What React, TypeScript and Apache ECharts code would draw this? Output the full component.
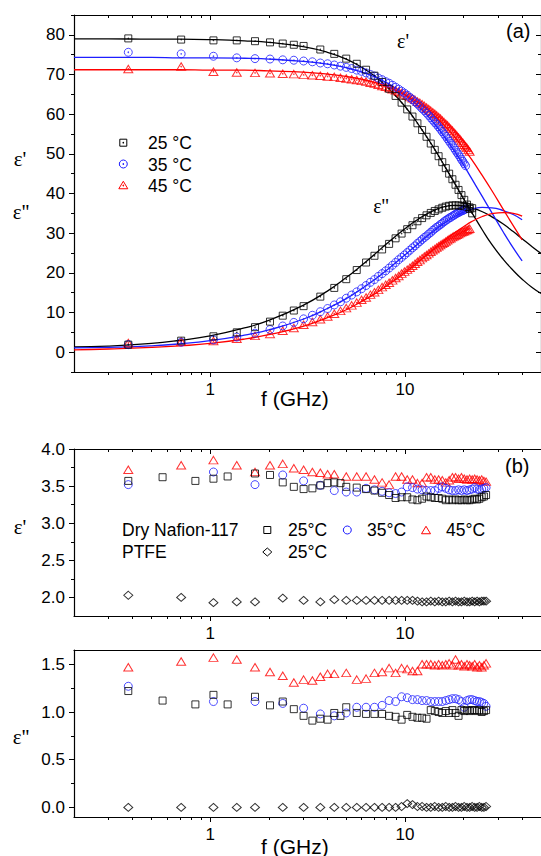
import React, { useEffect, useRef } from "react";
import * as echarts from "echarts";

// ---------- frequency axis ----------
const F_MIN = 0.2;
const F_MAX = 50;
const freqMajor = [1, 10];
const freqMinor = [0.3, 0.4, 0.5, 0.6, 0.7, 0.8, 0.9, 2, 3, 4, 5, 6, 7, 8, 9, 20, 30, 40];

// ---------- (a) water: measured points ----------
const waterFreq = [0.38, 0.71, 1.04, 1.37, 1.70, 2.03, 2.36, 2.69, 3.02, 3.35, 3.68, 4.01, 4.34, 4.67, 5.00, 5.33, 5.66, 5.99, 6.32, 6.65, 6.98, 7.31, 7.64, 7.97, 8.30, 8.63, 8.96, 9.29, 9.62, 9.95, 10.28, 10.61, 10.94, 11.27, 11.60, 11.93, 12.26, 12.59, 12.92, 13.25, 13.58, 13.91, 14.24, 14.57, 14.90, 15.23, 15.56, 15.89, 16.22, 16.55, 16.88, 17.21, 17.54, 17.87, 18.20, 18.53, 18.86, 19.19, 19.52, 19.85, 20.18, 20.51, 20.84, 21.17, 21.50, 21.83];
const waterFreq25 = [0.38, 0.71, 1.04, 1.37, 1.70, 2.03, 2.36, 2.69, 3.02, 3.68, 4.34, 5.00, 5.66, 6.32, 6.98, 7.64, 8.30, 8.96, 9.62, 10.28, 10.94, 11.60, 12.26, 12.92, 13.58, 14.24, 14.90, 15.56, 16.22, 16.88, 17.54, 18.20, 18.86, 19.52, 20.18, 20.84, 21.50, 22.16];

const epsReal25 = [79.1, 78.8, 78.6, 78.6, 78.4, 78.1, 77.8, 77.5, 77.2, 76.3, 75.2, 74.0, 72.7, 71.2, 69.7, 68.1, 66.4, 64.6, 62.9, 61.2, 59.4, 57.7, 56.0, 54.3, 52.6, 51.0, 49.4, 47.9, 46.4, 45.0, 43.6, 42.2, 40.9, 39.6, 38.4, 37.2, 36.1, 35.0];
const epsImag25 = [1.9, 2.9, 4.0, 5.0, 6.3, 7.7, 9.2, 10.5, 11.6, 14.0, 16.2, 18.4, 20.7, 22.6, 24.3, 25.9, 27.3, 28.7, 29.9, 31.0, 32.0, 33.0, 33.8, 34.5, 35.1, 35.6, 36.0, 36.4, 36.7, 36.9, 37.0, 37.0, 37.0, 36.9, 36.8, 36.6, 36.5, 36.3];

const epsReal35 = [75.6, 75.2, 74.6, 74.2, 74.0, 73.9, 73.7, 73.6, 73.4, 73.2, 72.9, 72.7, 72.4, 72.1, 71.8, 71.5, 71.1, 70.8, 70.4, 70.0, 69.6, 69.1, 68.7, 68.2, 67.8, 67.3, 66.8, 66.3, 65.8, 65.3, 64.8, 64.2, 63.7, 63.1, 62.6, 62.0, 61.4, 60.9, 60.3, 59.7, 59.1, 58.5, 57.9, 57.4, 56.8, 56.2, 55.6, 55.0, 54.4, 53.8, 53.2, 52.6, 52.1, 51.5, 50.9, 50.3, 49.8, 49.2, 48.6, 48.1, 47.5, 47.0];
const epsImag35 = [1.9, 2.5, 3.1, 3.8, 4.8, 5.7, 6.6, 7.5, 8.4, 9.3, 10.2, 11.0, 11.9, 12.7, 13.6, 14.4, 15.2, 16.0, 16.8, 17.6, 18.3, 19.1, 19.8, 20.5, 21.2, 21.9, 22.6, 23.3, 23.9, 24.5, 25.1, 25.7, 26.3, 26.8, 27.4, 27.9, 28.4, 28.9, 29.3, 29.8, 30.2, 30.7, 31.1, 31.5, 31.8, 32.2, 32.5, 32.9, 33.2, 33.5, 33.8, 34.0, 34.3, 34.5, 34.8, 35.0, 35.2, 35.4, 35.6, 35.7, 35.9, 36.1];

const epsReal45 = [71.4, 72.0, 70.7, 70.5, 70.4, 70.3, 70.2, 70.1, 69.9, 69.8, 69.7, 69.5, 69.4, 69.2, 69.0, 68.8, 68.6, 68.4, 68.2, 67.9, 67.7, 67.4, 67.1, 66.9, 66.6, 66.3, 66.0, 65.7, 65.3, 65.0, 64.7, 64.3, 64.0, 63.6, 63.2, 62.9, 62.5, 62.1, 61.7, 61.3, 60.9, 60.5, 60.1, 59.7, 59.3, 58.9, 58.4, 58.0, 57.6, 57.2, 56.7, 56.3, 55.9, 55.4, 55.0, 54.5, 54.1, 53.7, 53.2, 52.8, 52.3, 51.9, 51.5, 51.0, 50.6];
const epsImag45 = [2.3, 2.7, 2.8, 3.4, 4.1, 4.6, 5.4, 6.1, 6.9, 7.6, 8.3, 9.0, 9.7, 10.4, 11.1, 11.8, 12.5, 13.2, 13.8, 14.5, 15.1, 15.7, 16.4, 17.0, 17.5, 18.1, 18.7, 19.2, 19.8, 20.3, 20.8, 21.3, 21.8, 22.3, 22.8, 23.2, 23.7, 24.1, 24.5, 24.9, 25.3, 25.7, 26.0, 26.4, 26.7, 27.0, 27.3, 27.6, 27.9, 28.2, 28.5, 28.7, 29.0, 29.2, 29.4, 29.6, 29.8, 30.0, 30.2, 30.4, 30.5, 30.7, 30.8, 31.0, 31.1];

// ---------- (a) Debye fit curves ----------
const fitFreq = [0.2, 0.3, 0.5, 0.7, 1, 1.5, 2, 3, 4, 5, 6, 7, 8, 10, 12, 14, 16, 18, 20, 22, 25, 28, 32, 36, 40];
const fitFreq25 = [0.2, 0.3, 0.5, 0.7, 1, 1.5, 2, 3, 4, 5, 6, 7, 8, 10, 12, 14, 16, 18, 20, 22, 25, 28, 32, 36, 40, 45, 50];
const fitReal25 = [79.0, 79.0, 78.9, 78.9, 78.8, 78.5, 78.1, 77.0, 75.6, 73.9, 71.8, 69.6, 67.1, 62.0, 56.7, 51.7, 46.9, 42.6, 38.7, 35.3, 30.8, 27.1, 23.4, 20.6, 18.4, 16.3, 14.8];
const fitImag25 = [1.3, 1.5, 2.2, 3.0, 4.1, 6.1, 8.0, 11.8, 15.4, 18.8, 21.9, 24.7, 27.2, 31.1, 33.9, 35.7, 36.7, 37.0, 36.9, 36.4, 35.4, 34.1, 32.3, 30.4, 28.6, 26.6, 24.9];
const fitReal35 = [74.3, 74.3, 74.3, 74.2, 74.2, 74.1, 73.9, 73.3, 72.6, 71.7, 70.6, 69.4, 68.0, 64.9, 61.5, 57.9, 54.2, 50.6, 47.2, 43.8, 39.2, 35.1, 30.3, 26.3, 23.0];
const fitImag35 = [1.1, 1.2, 1.6, 2.1, 2.9, 4.3, 5.6, 8.3, 11.0, 13.5, 16.0, 18.3, 20.5, 24.5, 27.8, 30.5, 32.6, 34.2, 35.3, 36.0, 36.5, 36.4, 35.7, 34.7, 33.4];
const fitReal45 = [71.2, 71.2, 71.2, 71.2, 71.1, 71.1, 70.9, 70.6, 70.1, 69.5, 68.8, 68.0, 67.1, 64.9, 62.5, 59.9, 57.1, 54.3, 51.4, 48.6, 44.5, 40.7, 36.0, 31.9, 28.3];
const fitImag45 = [0.6, 0.8, 1.2, 1.6, 2.2, 3.3, 4.4, 6.5, 8.7, 10.7, 12.8, 14.7, 16.6, 20.0, 23.1, 25.9, 28.2, 30.1, 31.6, 32.9, 34.2, 34.9, 35.2, 35.0, 34.3];

// ---------- (b) dry Nafion-117 and PTFE ----------
const nafionFreq25 = [0.38, 0.57, 0.84, 1.04, 1.23, 1.70, 2.03, 2.36, 2.69, 3.02, 3.35, 3.68, 4.01, 4.34, 4.67, 5.00, 5.66, 6.32, 6.98, 7.64, 8.30, 8.96, 9.62, 10.28, 10.94, 11.60, 12.26, 12.92, 13.58, 14.24, 14.90, 15.56, 16.22, 16.88, 17.54, 18.20, 18.86, 19.52, 20.18, 20.84, 21.50, 22.16, 22.82, 23.48, 24.14, 24.80, 25.46, 26.12];
const nafionReal25 = [3.57, 3.62, 3.57, 3.60, 3.63, 3.67, 3.65, 3.55, 3.49, 3.46, 3.47, 3.51, 3.54, 3.55, 3.54, 3.49, 3.48, 3.46, 3.44, 3.41, 3.38, 3.34, 3.35, 3.35, 3.32, 3.31, 3.33, 3.36, 3.35, 3.34, 3.34, 3.33, 3.31, 3.32, 3.31, 3.32, 3.31, 3.31, 3.32, 3.31, 3.31, 3.32, 3.33, 3.32, 3.33, 3.35, 3.36, 3.38];
const nafionImag25 = [1.22, 1.12, 1.08, 1.18, 1.08, 1.16, 1.07, 1.11, 1.03, 0.96, 0.91, 0.93, 0.92, 0.99, 0.96, 1.05, 0.99, 0.98, 0.98, 0.98, 0.96, 0.95, 0.92, 0.97, 0.95, 0.94, 0.94, 0.93, 1.02, 1.01, 1.00, 0.99, 1.01, 0.99, 1.02, 0.99, 0.96, 1.02, 1.01, 1.02, 1.01, 1.02, 1.02, 1.01, 1.02, 1.00, 1.01, 1.02];

const nafionFreq35 = [0.38, 1.04, 1.70, 2.36, 3.02, 3.68, 4.34, 5.00, 5.66, 6.32, 6.98, 7.64, 8.30, 8.96, 9.62, 10.28, 10.94, 11.60, 12.26, 12.92, 13.58, 14.24, 14.90, 15.56, 16.22, 16.88, 17.54, 18.20, 18.86, 19.52, 20.18, 20.84, 21.50, 22.16, 22.82, 23.48, 24.14, 24.80, 25.46, 26.12];
const nafionReal35 = [3.52, 3.69, 3.52, 3.65, 3.57, 3.51, 3.44, 3.42, 3.42, 3.47, 3.45, 3.43, 3.41, 3.40, 3.42, 3.49, 3.48, 3.46, 3.45, 3.44, 3.44, 3.44, 3.47, 3.49, 3.47, 3.45, 3.44, 3.44, 3.45, 3.44, 3.45, 3.44, 3.45, 3.46, 3.48, 3.46, 3.45, 3.46, 3.47, 3.48];
const nafionImag35 = [1.27, 1.11, 1.11, 1.09, 1.04, 0.98, 0.96, 0.99, 1.05, 1.05, 1.05, 1.07, 1.12, 1.11, 1.16, 1.15, 1.13, 1.13, 1.12, 1.12, 1.11, 1.11, 1.11, 1.11, 1.12, 1.13, 1.14, 1.14, 1.13, 1.11, 1.05, 1.12, 1.13, 1.13, 1.12, 1.11, 1.11, 1.10, 1.09, 1.06];

const nafionFreq45 = [0.38, 0.71, 1.04, 1.37, 1.70, 2.03, 2.36, 2.69, 3.02, 3.35, 3.68, 4.01, 4.34, 5.00, 5.66, 6.32, 6.98, 7.64, 8.30, 8.96, 9.62, 10.28, 10.94, 11.60, 12.26, 12.92, 13.58, 14.24, 14.90, 15.56, 16.22, 16.88, 17.54, 18.20, 18.86, 19.52, 20.18, 20.84, 21.50, 22.16, 22.82, 23.48, 24.14, 24.80, 25.46, 26.12];
const nafionReal45 = [3.72, 3.78, 3.85, 3.78, 3.69, 3.78, 3.80, 3.74, 3.72, 3.69, 3.68, 3.66, 3.66, 3.63, 3.63, 3.63, 3.59, 3.55, 3.52, 3.63, 3.63, 3.59, 3.59, 3.54, 3.54, 3.62, 3.62, 3.59, 3.59, 3.58, 3.55, 3.58, 3.62, 3.62, 3.60, 3.62, 3.60, 3.59, 3.60, 3.59, 3.60, 3.59, 3.58, 3.59, 3.57, 3.56];
const nafionImag45 = [1.47, 1.53, 1.57, 1.55, 1.47, 1.42, 1.38, 1.31, 1.34, 1.33, 1.37, 1.40, 1.40, 1.41, 1.34, 1.35, 1.41, 1.42, 1.46, 1.41, 1.46, 1.45, 1.43, 1.43, 1.50, 1.50, 1.50, 1.49, 1.50, 1.49, 1.50, 1.51, 1.49, 1.55, 1.49, 1.50, 1.48, 1.50, 1.49, 1.48, 1.50, 1.47, 1.49, 1.47, 1.49, 1.51];

const ptfeFreq = [0.38, 0.71, 1.04, 1.37, 1.70, 2.36, 3.02, 3.68, 4.34, 5.00, 5.66, 6.32, 6.98, 7.64, 8.30, 8.96, 9.62, 10.28, 10.94, 11.60, 12.26, 12.92, 13.58, 14.24, 14.90, 15.56, 16.22, 16.88, 17.54, 18.20, 18.86, 19.52, 20.18, 20.84, 21.50, 22.16, 22.82, 23.48, 24.14, 24.80, 25.46, 26.12];
const ptfeReal = [2.03, 2.00, 1.93, 1.94, 1.94, 1.99, 1.96, 1.94, 1.97, 1.96, 1.96, 1.96, 1.96, 1.96, 1.96, 1.96, 1.96, 1.96, 1.96, 1.95, 1.94, 1.94, 1.95, 1.94, 1.95, 1.94, 1.94, 1.95, 1.94, 1.95, 1.94, 1.94, 1.95, 1.94, 1.94, 1.95, 1.94, 1.95, 1.94, 1.95, 1.95, 1.95];
const ptfeImag = [0.00, 0.00, 0.00, 0.00, 0.00, 0.00, 0.00, 0.00, 0.00, 0.00, 0.00, 0.00, 0.00, 0.00, 0.00, 0.00, 0.01, 0.04, 0.03, 0.01, 0.01, 0.00, 0.00, 0.01, 0.00, 0.00, 0.01, 0.00, 0.00, 0.01, 0.00, 0.00, 0.01, 0.00, 0.00, 0.01, 0.00, 0.00, 0.01, 0.00, 0.00, 0.01];

// ---------- y-axis ticks ----------
const yTicksA = [0, 10, 20, 30, 40, 50, 60, 70, 80];
const yMinorA = [-5, 5, 15, 25, 35, 45, 55, 65, 75, 85];
const yTicksB1 = [2.0, 2.5, 3.0, 3.5, 4.0];
const yMinorB1 = [2.25, 2.75, 3.25, 3.75];
const yTicksB2 = [0.0, 0.5, 1.0, 1.5];
const yMinorB2 = [0.25, 0.75, 1.25];

const SANS = "'Liberation Sans', Arial, Helvetica, sans-serif";
const SERIF = "'Liberation Serif', 'Times New Roman', serif";
const BLACK = "#000000";
const BLUE = "#1e1eff";
const RED = "#ff0000";

const zip = (fs: number[], vs: number[]) => vs.map((v, i) => [fs[i], v]);

const tickFont = { fontSize: 17, color: "#000", fontFamily: SANS };

function xAxis(grid: number, position: "top" | "bottom", major: boolean, labels: boolean, ticks = true) {
  return {
    type: "log",
    logBase: 10,
    gridIndex: grid,
    position,
    min: F_MIN,
    max: F_MAX,
    axisLine: { show: major, onZero: false, lineStyle: { color: "#000", width: 1.2 } },
    axisTick: {
      show: ticks,
      inside: position === "top",
      length: major ? 5 : 3,
      customValues: major ? freqMajor : freqMinor,
      lineStyle: { color: "#000", width: 1 },
    },
    axisLabel: {
      show: labels,
      customValues: freqMajor,
      formatter: (v: number) => String(Math.round(v)),
      margin: 9,
      ...tickFont,
    },
    splitLine: { show: false },
  };
}

function yAxis(
  grid: number,
  position: "left" | "right",
  major: boolean,
  min: number,
  max: number,
  values: number[],
  digits: number
) {
  return {
    type: "value",
    gridIndex: grid,
    position,
    min,
    max,
    axisLine: { show: major, onZero: false, lineStyle: { color: "#000", width: 1.2 } },
    axisTick: {
      show: true,
      inside: position === "right",
      length: major ? 5 : 3,
      customValues: values,
      lineStyle: { color: "#000", width: 1 },
    },
    axisLabel: {
      show: major && position === "left",
      customValues: values,
      formatter: (v: number) => v.toFixed(digits),
      margin: 9,
      ...tickFont,
    },
    splitLine: { show: false },
  };
}

const hollow = (color: string, symbol: string, size: number | number[], data: number[][], xi: number, yi: number) => ({
  type: "scatter",
  xAxisIndex: xi,
  yAxisIndex: yi,
  data,
  symbol,
  symbolSize: size,
  itemStyle: { color: "rgba(0,0,0,0)", borderColor: color, borderWidth: 1 },
  silent: true,
  z: 3,
});

const centreDot = (color: string, data: number[][]) => ({
  type: "scatter",
  xAxisIndex: 0,
  yAxisIndex: 0,
  data,
  symbol: "circle",
  symbolSize: 1.6,
  itemStyle: { color },
  silent: true,
  z: 4,
});

const fitLine = (color: string, data: number[][]) => ({
  type: "line",
  xAxisIndex: 0,
  yAxisIndex: 0,
  data,
  smooth: true,
  showSymbol: false,
  symbol: "none",
  lineStyle: { color, width: 1.3 },
  silent: true,
  z: 2,
});

const SQ = [7, 7];
const CI = 8;
const TR = [9, 7.5];
const DI = [9, 8];

function label(text: string, x: number, y: number, size: number, family = SANS, align = "left") {
  return {
    type: "text",
    x,
    y,
    silent: true,
    style: { text, fontSize: size, fontFamily: family, fill: "#000", align, verticalAlign: "middle" },
  };
}

const stroke = (c: string) => ({ fill: "none", stroke: c, lineWidth: 1 });

function squareMark(cx: number, cy: number, c: string) {
  return { type: "rect", silent: true, shape: { x: cx - 3.5, y: cy - 3.5, width: 7, height: 7 }, style: stroke(c) };
}
function circleMark(cx: number, cy: number, c: string) {
  return { type: "circle", silent: true, shape: { cx, cy, r: 4 }, style: stroke(c) };
}
function triangleMark(cx: number, cy: number, c: string) {
  return {
    type: "polygon",
    silent: true,
    shape: { points: [[cx - 4.5, cy + 3.75], [cx + 4.5, cy + 3.75], [cx, cy - 3.75]] },
    style: stroke(c),
  };
}
function diamondMark(cx: number, cy: number, c: string) {
  return {
    type: "polygon",
    silent: true,
    shape: { points: [[cx, cy - 4], [cx + 4.5, cy], [cx, cy + 4], [cx - 4.5, cy]] },
    style: stroke(c),
  };
}
function dotMark(cx: number, cy: number, c: string) {
  return { type: "circle", silent: true, shape: { cx, cy, r: 0.8 }, style: { fill: c } };
}

function buildOption() {
  const grid = [
    { left: 74, top: 15, width: 468, height: 357 },
    { left: 74, top: 449, width: 468, height: 167 },
    { left: 74, top: 650, width: 468, height: 167 },
  ];

  const xAxes = [
    xAxis(0, "bottom", true, true),
    xAxis(0, "bottom", false, false),
    xAxis(0, "top", true, false),
    xAxis(0, "top", false, false),
    xAxis(1, "bottom", true, true),
    xAxis(1, "bottom", false, false),
    xAxis(1, "top", true, false),
    xAxis(1, "top", false, false),
    xAxis(2, "bottom", true, true),
    xAxis(2, "bottom", false, false),
    xAxis(2, "top", true, false, false),
  ];

  const yAxes = [
    yAxis(0, "left", true, -5, 85, yTicksA, 0),
    yAxis(0, "left", false, -5, 85, yMinorA, 0),
    yAxis(0, "right", true, -5, 85, yTicksA, 0),
    yAxis(0, "right", false, -5, 85, yMinorA, 0),
    yAxis(1, "left", true, 1.75, 4.0, yTicksB1, 1),
    yAxis(1, "left", false, 1.75, 4.0, yMinorB1, 1),
    yAxis(2, "left", true, -0.1, 1.65, yTicksB2, 1),
    yAxis(2, "left", false, -0.1, 1.65, yMinorB2, 1),
  ];

  const r25 = zip(waterFreq25, epsReal25);
  const i25 = zip(waterFreq25, epsImag25);
  const r35 = zip(waterFreq, epsReal35);
  const i35 = zip(waterFreq, epsImag35);
  const r45 = zip(waterFreq, epsReal45);
  const i45 = zip(waterFreq, epsImag45);

  const series = [
    fitLine(BLACK, zip(fitFreq25, fitReal25)),
    fitLine(BLACK, zip(fitFreq25, fitImag25)),
    fitLine(BLUE, zip(fitFreq, fitReal35)),
    fitLine(BLUE, zip(fitFreq, fitImag35)),
    fitLine(RED, zip(fitFreq, fitReal45)),
    fitLine(RED, zip(fitFreq, fitImag45)),

    hollow(RED, "triangle", TR, r45, 0, 0),
    hollow(RED, "triangle", TR, i45, 0, 0),
    centreDot(RED, r45),
    centreDot(RED, i45),
    hollow(BLUE, "circle", CI, r35, 0, 0),
    hollow(BLUE, "circle", CI, i35, 0, 0),
    centreDot(BLUE, r35),
    centreDot(BLUE, i35),
    hollow(BLACK, "rect", SQ, r25, 0, 0),
    hollow(BLACK, "rect", SQ, i25, 0, 0),
    centreDot(BLACK, r25),
    centreDot(BLACK, i25),

    hollow(RED, "triangle", TR, zip(nafionFreq45, nafionReal45), 4, 4),
    hollow(BLUE, "circle", CI, zip(nafionFreq35, nafionReal35), 4, 4),
    hollow(BLACK, "rect", SQ, zip(nafionFreq25, nafionReal25), 4, 4),
    hollow(BLACK, "diamond", DI, zip(ptfeFreq, ptfeReal), 4, 4),

    hollow(RED, "triangle", TR, zip(nafionFreq45, nafionImag45), 8, 6),
    hollow(BLUE, "circle", CI, zip(nafionFreq35, nafionImag35), 8, 6),
    hollow(BLACK, "rect", SQ, zip(nafionFreq25, nafionImag25), 8, 6),
    hollow(BLACK, "diamond", DI, zip(ptfeFreq, ptfeImag), 8, 6),
  ];

  const graphics = [
    // panel (a) annotations
    label("(a)", 506, 31, 20),
    label("ε'", 403, 41, 20, SERIF, "center"),
    label("ε''", 381, 206, 20, SERIF, "center"),
    label("ε'", 20, 159, 21, SERIF, "center"),
    label("ε''", 21, 212, 21, SERIF, "center"),
    label("f (GHz)", 261, 398, 21),

    // panel (a) legend
    squareMark(123.3, 142.7, BLACK),
    dotMark(123.3, 142.7, BLACK),
    label("25 °C", 148, 143, 17.5),
    circleMark(123.3, 164, BLUE),
    dotMark(123.3, 164, BLUE),
    label("35 °C", 148, 164.5, 17.5),
    triangleMark(123.3, 185, RED),
    dotMark(123.3, 185.5, RED),
    label("45 °C", 148, 186, 17.5),

    // panel (b) annotations
    label("(b)", 505, 466, 20),
    label("ε'", 20, 527, 21, SERIF, "center"),
    label("ε''", 21, 737, 21, SERIF, "center"),
    label("f (GHz)", 261, 846, 21),

    // panel (b) legend
    label("Dry Nafion-117", 122, 530, 17.5),
    squareMark(267.3, 530, BLACK),
    label("25°C", 288, 530, 17.5),
    circleMark(347.3, 530, BLUE),
    label("35°C", 367, 530, 17.5),
    triangleMark(426, 530, RED),
    label("45°C", 446, 530, 17.5),
    label("PTFE", 122, 552, 17.5),
    diamondMark(267.3, 552, BLACK),
    label("25°C", 288, 552, 17.5),
  ];

  return {
    animation: false,
    backgroundColor: "#ffffff",
    grid,
    xAxis: xAxes,
    yAxis: yAxes,
    series,
    graphic: { elements: graphics },
  };
}

export default function App() {
  const ref = useRef<HTMLDivElement>(null);
  useEffect(() => {
    if (!ref.current) return;
    const chart = echarts.init(ref.current, undefined, { renderer: "svg" });
    chart.setOption(buildOption() as any);
    return () => chart.dispose();
  }, []);
  return (
    <div
      ref={ref}
      style={{ position: "absolute", left: 0, top: 0, width: 541, height: 856, background: "#fff" }}
    />
  );
}
